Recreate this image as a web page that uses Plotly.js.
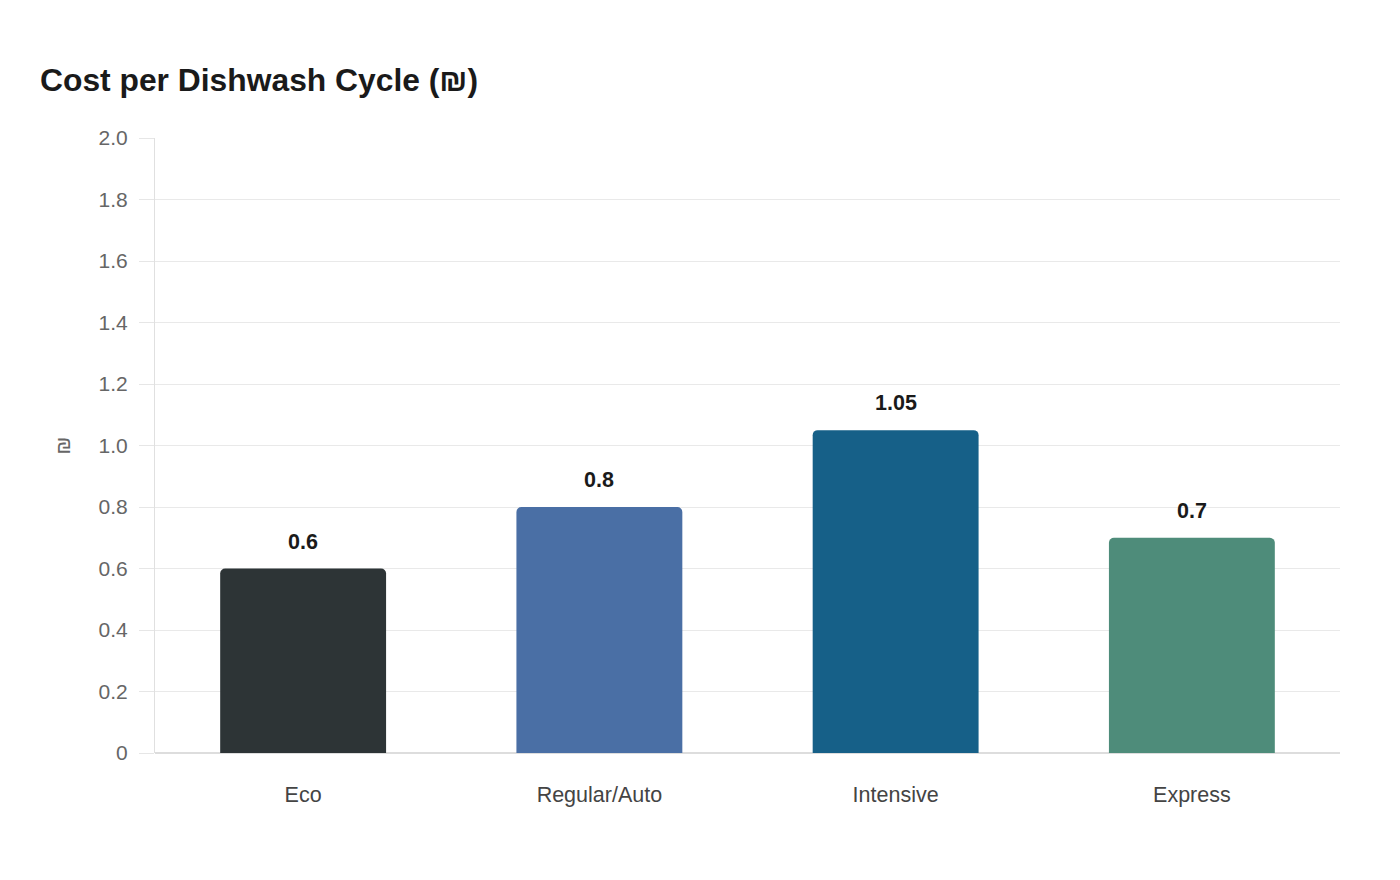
<!DOCTYPE html>
<html>
<head>
<meta charset="utf-8">
<script src="https://cdn.plot.ly/plotly-3.0.1.min.js"></script>
<style>html,body{margin:0;padding:0;background:#fff;}#chart{width:1400px;height:880px;}</style>
</head>
<body>
<div id="chart"></div>
<script>
const categories = ["Eco", "Regular/Auto", "Intensive", "Express"];
const costs = [0.6, 0.8, 1.05, 0.7];
const barColors = ["#2d3436", "#4a6fa5", "#166088", "#4e8c7a"];
const yTickVals = [0, 0.2, 0.4, 0.6, 0.8, 1.0, 1.2, 1.4, 1.6, 1.8, 2.0];
const yTickText = ["0", "0.2", "0.4", "0.6", "0.8", "1.0", "1.2", "1.4", "1.6", "1.8", "2.0"];

const trace = {
  type: "bar",
  x: categories,
  y: costs,
  marker: { color: barColors, cornerradius: 5, line: { width: 0 } },
  hoverinfo: "x+y"
};

const annotations = categories.map((c, i) => ({
  x: c, y: costs[i], xref: "x", yref: "y",
  text: "<b>" + String(costs[i]) + "</b>",
  showarrow: false, yanchor: "bottom", yshift: 13,
  font: { family: "Liberation Sans, Arial, sans-serif", size: 21.5, color: "#1a1a1a" }
}));

const layout = {
  width: 1400, height: 880,
  paper_bgcolor: "#fff", plot_bgcolor: "#fff",
  margin: { l: 155, r: 60, t: 138, b: 127 },
  font: { family: "Liberation Sans, Arial, sans-serif", size: 21, color: "#666" },
  title: {
    text: "<b>Cost per Dishwash Cycle (₪)</b>",
    x: 40 / 1400, xanchor: "left", xref: "container",
    y: 1 - 80 / 880, yanchor: "middle", yref: "container",
    font: { size: 31.8, color: "#1a1a1a", family: "Liberation Sans, Arial, sans-serif" }
  },
  bargap: 0.44,
  showlegend: false,
  xaxis: {
    type: "category",
    showgrid: false,
    showline: false,
    ticks: "",
    ticklabelstandoff: 26,
    tickfont: { size: 21.5, color: "#444" },
    zeroline: false
  },
  yaxis: {
    range: [0, 2.0],
    tickvals: yTickVals,
    ticktext: yTickText,
    ticks: "outside", ticklen: 15, tickcolor: "#e6e6e6", tickwidth: 1,
    ticklabelstandoff: 7,
    showgrid: true, gridcolor: "#e9e9e9", gridwidth: 1,
    showline: true, linecolor: "#e0e0e0", linewidth: 1,
    zeroline: true, zerolinecolor: "#dddddd", zerolinewidth: 2,
    tickfont: { size: 21, color: "#666" },
    title: { text: "₪", standoff: 22, font: { size: 21, color: "#666" } }
  },
  annotations: annotations
};

Plotly.newPlot("chart", [trace], layout, { displayModeBar: false, staticPlot: true });
</script>
</body>
</html>
